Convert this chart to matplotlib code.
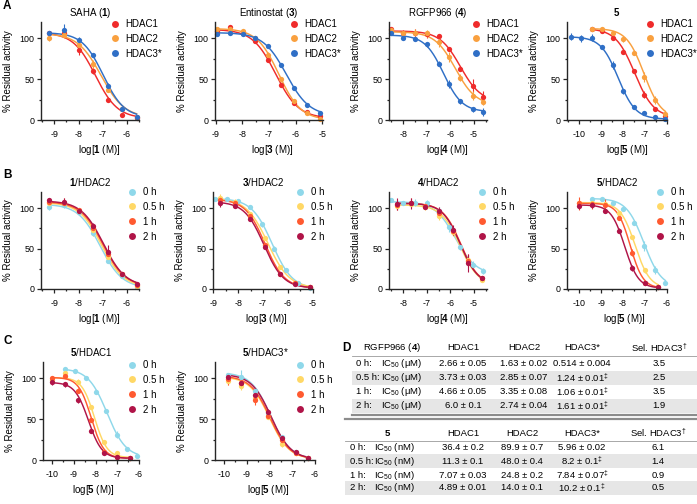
import numpy as np
import matplotlib
matplotlib.use("Agg")
import matplotlib.pyplot as plt
from matplotlib.lines import Line2D
from matplotlib.ticker import MultipleLocator

plt.rcParams['font.family'] = ['Liberation Sans', 'DejaVu Sans']
plt.rcParams['mathtext.fontset'] = 'custom'
plt.rcParams['mathtext.rm'] = 'Liberation Sans'
plt.rcParams['mathtext.it'] = 'Liberation Sans:italic'
plt.rcParams['mathtext.bf'] = 'Liberation Sans:bold'
plt.rcParams['axes.unicode_minus'] = False

# ---- panel A: SAHA (1), 4-fold dilution
sa_x = [-9.2, -8.6, -8.0, -7.4, -6.8, -6.2, -5.6]
sa_h1 = [106, 107, 86, 60, 25, 6, 3]
sa_h2 = [101, 104, 92, 68, 37, 14, 4]
sa_h3 = [106, 110, 98, 79, 42, 14, 4]
sa_h1_err = [3, 3, 6, 4, 2, 1, 1]
sa_h2_err = [4, 4, 3, 5, 3, 2, 2]
sa_h3_err = [2, 8, 4, 2, 3, 2, 1]
# fit params: top, bottom, logIC50, hill
sa_fit_h1 = [107, 2, -7.3, 0.95]
sa_fit_h2 = [106, 3, -7.07, 0.9]
sa_fit_h3 = [107, 3, -6.98, 1.0]

# ---- panel A: Entinostat (3)
en_x = [-8.95, -8.47, -7.99, -7.51, -7.03, -6.55, -6.07, -5.59, -5.1]
en_h1 = [109, 114, 107, 97, 73, 43, 21, 10, 5]
en_h2 = [111, 111, 109, 101, 80, 50, 23, 8, 1]
en_h3 = [105, 107, 105, 101, 91, 67, 39, 18, 8]
en_h1_err = [3, 2, 2, 2, 2, 2, 2, 1, 2]
en_h2_err = [2, 2, 2, 2, 3, 3, 2, 1, 1]
en_h3_err = [2, 2, 2, 2, 2, 2, 2, 1, 1]
en_fit_h1 = [111, 2, -6.75, 1.0]
en_fit_h2 = [112, 0, -6.63, 1.05]
en_fit_h3 = [107, 5, -6.35, 1.0]

# ---- panel A: RGFP966 (4)
rg_x = [-8.5, -8.0, -7.5, -7.0, -6.5, -6.05, -5.58, -5.04, -4.6]
rg_h1 = [111, 107, 106, 105, 103, 87, 63, 42, 28]
rg_h2 = [110, 107, 107, 106, 96, 77, 52, 30, 22]
rg_h3 = [106, 101, 99, 93, 69, 44, 23, 13, 10]
rg_h1_err = [2, 3, 5, 4, 2, 2, 3, 8, 8]
rg_h2_err = [2, 2, 4, 4, 6, 6, 4, 5, 4]
rg_h3_err = [2, 2, 2, 3, 3, 5, 3, 3, 5]
rg_fit_h1 = [109, 22, -5.58, 1.0]
rg_fit_h2 = [108, 18, -5.79, 1.0]
rg_fit_h3 = [104, 10, -6.29, 1.1]

# ---- panel A: 5 (HDAC1/2 start at the third concentration)
c5_x = [-10.38, -9.9, -9.42, -8.94, -8.46, -7.98, -7.5, -7.03, -6.55, -6.07]
c5_h1 = [111, 109, 100, 83, 60, 31, 13, 5]
c5_h2 = [111, 111, 107, 99, 82, 53, 24, 7]
c5_h3 = [102, 100, 101, 89, 67, 35, 16, 8, 4, 1]
c5_h1_err = [2, 2, 2, 2, 3, 4, 2, 1]
c5_h2_err = [2, 2, 2, 3, 2, 6, 5, 2]
c5_h3_err = [4, 4, 4, 2, 5, 3, 1, 1, 1, 1]
c5_fit_h1 = [112, 3, -7.47, 1.0]
c5_fit_h2 = [112, 2, -7.05, 1.1]
c5_fit_h3 = [102, 1, -8.22, 1.1]

# ---- panel B: 1/HDAC2 over time
b1_0h = [102, 104, 95, 69, 35, 16, 2]
b1_05h = [106, 106, 97, 73, 40, 18, 4]
b1_1h = [108, 107, 98, 76, 43, 19, 5]
b1_2h = [110, 108, 96, 78, 46, 19, 6]
b1_0h_err = [4, 4, 3, 4, 3, 2, 2]
b1_05h_err = [3, 3, 2, 8, 3, 2, 1]
b1_1h_err = [3, 5, 2, 5, 4, 2, 1]
b1_2h_err = [3, 5, 3, 4, 9, 2, 1]
b1_fit_0h = [105, 1, -7.1, 0.95]
b1_fit_05h = [107, 2, -7.05, 0.95]
b1_fit_1h = [108, 3, -7.0, 0.95]
b1_fit_2h = [109, 3, -6.97, 0.95]

# ---- panel B: 3/HDAC2 (0 h = entinostat HDAC2 data)
b2_x = [-8.73, -8.13, -7.52, -6.92, -6.32, -5.72, -5.12]
b2_05h = [113, 108, 93, 63, 27, 8, 2]
b2_1h = [110, 107, 90, 54, 19, 7, 2]
b2_2h = [106, 103, 86, 52, 19, 6, 2]
b2_05h_err = [4, 3, 2, 2, 2, 1, 1]
b2_1h_err = [3, 3, 3, 3, 2, 1, 1]
b2_2h_err = [5, 3, 2, 3, 2, 1, 1]
b2_fit_05h = [112, 1, -6.8, 1.0]
b2_fit_1h = [111, 1, -6.92, 1.1]
b2_fit_2h = [108, 1, -6.96, 1.1]

# ---- panel B: 4/HDAC2 (0 h = RGFP966 HDAC2 data)
b3_x = [-8.28, -7.68, -7.07, -6.47, -5.87, -5.26, -4.66]
b3_05h = [103, 105, 101, 90, 70, 36, 11]
b3_1h = [104, 107, 103, 94, 72, 35, 13]
b3_2h = [105, 106, 102, 96, 73, 32, 13]
b3_05h_err = [4, 4, 3, 5, 4, 6, 2]
b3_1h_err = [6, 6, 3, 4, 5, 8, 2]
b3_2h_err = [7, 7, 3, 5, 6, 11, 3]
b3_fit_05h = [104, 4, -5.6, 1.1]
b3_fit_1h = [106, 5, -5.56, 1.15]
b3_fit_2h = [106, 5, -5.58, 1.15]

# ---- panel B: 5/HDAC2 (0 h = compound 5 HDAC2 data)
b4_x = [-10.0, -9.4, -8.8, -8.2, -7.6, -7.0, -6.4]
b4_05h = [107, 106, 105, 94, 64, 23, 2]
b4_1h = [106, 105, 104, 88, 45, 7, 2]
b4_2h = [103, 104, 97, 72, 26, 7, 2]
b4_05h_err = [3, 3, 2, 2, 2, 3, 1]
b4_1h_err = [8, 6, 7, 3, 4, 1, 1]
b4_2h_err = [4, 4, 2, 3, 4, 2, 1]
b4_fit_05h = [107, 1, -7.45, 1.3]
b4_fit_1h = [106, 1, -7.67, 1.5]
b4_fit_2h = [104, 1, -7.92, 1.4]

# ---- panel C: 5/HDAC1 (0 h = compound 5 HDAC1 data)
c1_x = [-10.0, -9.4, -8.8, -8.2, -7.6, -7.0, -6.4]
c1_05h = [98, 106, 96, 65, 22, 8, 3]
c1_1h = [100, 103, 85, 49, 10, 4, 2]
c1_2h = [95, 93, 73, 36, 9, 4, 2]
c1_05h_err = [4, 4, 3, 2, 2, 1, 1]
c1_1h_err = [3, 3, 3, 3, 2, 1, 1]
c1_2h_err = [3, 3, 3, 2, 2, 1, 1]
c1_fit_05h = [101, 3, -8.05, 1.5]
c1_fit_1h = [101, 2, -8.2, 1.5]
c1_fit_2h = [95, 2, -8.33, 1.4]

# ---- panel C: 5/HDAC3*
c2_x = [-9.85, -9.25, -8.65, -8.05, -7.45, -6.85, -6.3]
c2_0h = [104, 102, 84, 57, 28, 10, 3]
c2_05h = [97, 91, 76, 53, 20, 8, 2]
c2_1h = [99, 94, 74, 54, 24, 8, 2]
c2_2h = [102, 94, 80, 59, 27, 10, 3]
c2_0h_err = [3, 8, 3, 3, 3, 2, 1]
c2_05h_err = [5, 5, 4, 3, 4, 1, 1]
c2_1h_err = [7, 4, 7, 3, 3, 1, 1]
c2_2h_err = [3, 3, 3, 3, 3, 1, 1]
c2_fit_0h = [107, 1, -7.95, 1.0]
c2_fit_05h = [102, 1, -8.0, 1.0]
c2_fit_1h = [103, 1, -7.98, 1.0]
c2_fit_2h = [105, 1, -7.93, 1.0]

# ---- panel D tables
tbl_times = ["0 h:", "0.5 h:", "1 h:", "2 h:"]
tbl_cols = ["HDAC1", "HDAC2", "HDAC3*", "Sel. HDAC3$^{†}$"]
t4_h1 = ["2.66 ± 0.05", "3.73 ± 0.03", "4.66 ± 0.05", "6.0 ± 0.1"]
t4_h2 = ["1.63 ± 0.02", "2.85 ± 0.07", "3.35 ± 0.08", "2.74 ± 0.04"]
t4_h3 = ["0.514 ± 0.004", "1.24 ± 0.01$^{‡}$", "1.06 ± 0.01$^{‡}$", "1.61 ± 0.01$^{‡}$"]
t4_sel = ["3.5", "2.5", "3.5", "1.9"]
t5_h1 = ["36.4 ± 0.2", "11.3 ± 0.1", "7.07 ± 0.03", "4.89 ± 0.01"]
t5_h2 = ["89.9 ± 0.7", "48.0 ± 0.4", "24.8 ± 0.2", "14.0 ± 0.1"]
t5_h3 = ["5.96 ± 0.02", "8.2 ± 0.1$^{‡}$", "7.84 ± 0.07$^{‡}$", "10.2 ± 0.1$^{‡}$"]
t5_sel = ["6.1", "1.4", "0.9", "0.5"]

enz_labels = ["HDAC1", "HDAC2", "HDAC3*"]
enz_colors = ["#ef2b2b", "#f9a03f", "#2f6fc6"]
time_labels = ["0 h", "0.5 h", "1 h", "2 h"]
time_colors = ["#8fd8ea", "#ffd866", "#ff5a30", "#b01448"]

W, H = 697, 504
fig = plt.figure(figsize=(W / 100, H / 100), dpi=100)
AXC = "#262626"


def add_ax(x0, y0, x1, y1):
    return fig.add_axes([x0 / W, 1 - y1 / H, (x1 - x0) / W, (y1 - y0) / H])


def logistic(x, top, bottom, logic, hill):
    return bottom + (top - bottom) / (1 + 10 ** ((x - logic) * hill))


def draw_panel(box, series, xlim, xticks, title, xlabel, xlab_px, leg_labels, leg_colors, leg_pos):
    ax = add_ax(*box)
    wpx = box[2] - box[0]
    hpx = box[3] - box[1]
    for x, y, err, fit, col in series:
        xs = np.linspace(x[0], x[-1], 200)
        ax.plot(xs, logistic(xs, *fit), color=col, lw=1.05, clip_on=False)
        ax.errorbar(x, y, yerr=err, fmt='o', color=col, ms=3.8, mew=0,
                    elinewidth=0.8, capsize=1.8, capthick=0.8, clip_on=False)
    ax.set_xlim(*xlim)
    ax.set_ylim(0, 120)
    ax.set_xticks(xticks)
    ax.xaxis.set_minor_locator(MultipleLocator(0.5))
    ax.set_yticks([0, 50, 100])
    ax.yaxis.set_minor_locator(MultipleLocator(25))
    for s in ['top', 'right']:
        ax.spines[s].set_visible(False)
    for s in ['left', 'bottom']:
        ax.spines[s].set_color(AXC)
        ax.spines[s].set_linewidth(1.0)
    ax.tick_params(which='major', length=2.8, width=0.9, color=AXC, labelsize=6.4, pad=2)
    ax.tick_params(axis='x', which='major', pad=4.5)
    ax.tick_params(which='minor', length=1.6, width=0.9, color=AXC)
    ax.set_title(title, fontsize=7, pad=4)
    ax.set_xlabel(xlabel, fontsize=7)
    ax.xaxis.set_label_coords((xlab_px - box[0]) / wpx, -23 / hpx)
    ax.set_ylabel("% Residual activity", fontsize=7)
    ax.yaxis.set_label_coords(-28 / wpx, 0.5)
    handles = [Line2D([], [], ls='none', marker='o', ms=5, mew=0, color=c) for c in leg_colors]
    ax.legend(handles, leg_labels, loc='upper left', frameon=False, fontsize=7,
              bbox_to_anchor=(leg_pos[0] / W, 1 - leg_pos[1] / H), bbox_transform=fig.transFigure,
              borderaxespad=0, borderpad=0, handlelength=1.0, handletextpad=0.6, labelspacing=0.5)
    return ax


# Row A
draw_panel((41, 22, 139, 120),
           [(sa_x, sa_h1, sa_h1_err, sa_fit_h1, enz_colors[0]),
            (sa_x, sa_h2, sa_h2_err, sa_fit_h2, enz_colors[1]),
            (sa_x, sa_h3, sa_h3_err, sa_fit_h3, enz_colors[2])],
           (-9.55, -5.5), [-9, -8, -7, -6], r"SAHA ($\mathbf{1}$)", r"log[$\mathbf{1}$ (M)]", 99,
           enz_labels, enz_colors, (110, 19))
draw_panel((215, 22, 323, 120),
           [(en_x, en_h1, en_h1_err, en_fit_h1, enz_colors[0]),
            (en_x, en_h2, en_h2_err, en_fit_h2, enz_colors[1]),
            (en_x, en_h3, en_h3_err, en_fit_h3, enz_colors[2])],
           (-9.03, -4.97), [-9, -8, -7, -6, -5], r"Entinostat ($\mathbf{3}$)", r"log[$\mathbf{3}$ (M)]", 272,
           enz_labels, enz_colors, (289, 19))
draw_panel((389, 22, 487, 120),
           [(rg_x, rg_h1, rg_h1_err, rg_fit_h1, enz_colors[0]),
            (rg_x, rg_h2, rg_h2_err, rg_fit_h2, enz_colors[1]),
            (rg_x, rg_h3, rg_h3_err, rg_fit_h3, enz_colors[2])],
           (-8.6, -4.45), [-8, -7, -6, -5], r"RGFP966 ($\mathbf{4}$)", r"log[$\mathbf{4}$ (M)]", 447,
           enz_labels, enz_colors, (471, 19))
draw_panel((567, 22, 667, 120),
           [(c5_x[2:], c5_h1, c5_h1_err, c5_fit_h1, enz_colors[0]),
            (c5_x[2:], c5_h2, c5_h2_err, c5_fit_h2, enz_colors[1]),
            (c5_x, c5_h3, c5_h3_err, c5_fit_h3, enz_colors[2])],
           (-10.55, -6.0), [-10, -9, -8, -7, -6], r"$\mathbf{5}$", r"log[$\mathbf{5}$ (M)]", 627,
           enz_labels, enz_colors, (645, 19))

# Row B
draw_panel((41, 192, 139, 289),
           [(sa_x, b1_0h, b1_0h_err, b1_fit_0h, time_colors[0]),
            (sa_x, b1_05h, b1_05h_err, b1_fit_05h, time_colors[1]),
            (sa_x, b1_1h, b1_1h_err, b1_fit_1h, time_colors[2]),
            (sa_x, b1_2h, b1_2h_err, b1_fit_2h, time_colors[3])],
           (-9.55, -5.5), [-9, -8, -7, -6], r"$\mathbf{1}$/HDAC2", r"log[$\mathbf{1}$ (M)]", 99,
           time_labels, time_colors, (127, 187))
draw_panel((213, 192, 313, 289),
           [(en_x, en_h2, en_h2_err, en_fit_h2, time_colors[0]),
            (b2_x, b2_05h, b2_05h_err, b2_fit_05h, time_colors[1]),
            (b2_x, b2_1h, b2_1h_err, b2_fit_1h, time_colors[2]),
            (b2_x, b2_2h, b2_2h_err, b2_fit_2h, time_colors[3])],
           (-9.02, -4.98), [-9, -8, -7, -6, -5], r"$\mathbf{3}$/HDAC2", r"log[$\mathbf{3}$ (M)]", 266,
           time_labels, time_colors, (295, 187))
draw_panel((389, 192, 487, 289),
           [(rg_x, rg_h2, rg_h2_err, rg_fit_h2, time_colors[0]),
            (b3_x, b3_05h, b3_05h_err, b3_fit_05h, time_colors[1]),
            (b3_x, b3_1h, b3_1h_err, b3_fit_1h, time_colors[2]),
            (b3_x, b3_2h, b3_2h_err, b3_fit_2h, time_colors[3])],
           (-8.6, -4.45), [-8, -7, -6, -5], r"$\mathbf{4}$/HDAC2", r"log[$\mathbf{4}$ (M)]", 447,
           time_labels, time_colors, (477, 187))
draw_panel((567, 192, 667, 289),
           [(c5_x[2:], c5_h2, c5_h2_err, c5_fit_h2, time_colors[0]),
            (b4_x, b4_05h, b4_05h_err, b4_fit_05h, time_colors[1]),
            (b4_x, b4_1h, b4_1h_err, b4_fit_1h, time_colors[2]),
            (b4_x, b4_2h, b4_2h_err, b4_fit_2h, time_colors[3])],
           (-10.55, -6.0), [-10, -9, -8, -7, -6], r"$\mathbf{5}$/HDAC2", r"log[$\mathbf{5}$ (M)]", 624,
           time_labels, time_colors, (655, 187))

# Row C
draw_panel((43, 362, 139, 460),
           [(c5_x[2:], c5_h1, c5_h1_err, c5_fit_h1, time_colors[0]),
            (c1_x, c1_05h, c1_05h_err, c1_fit_05h, time_colors[1]),
            (c1_x, c1_1h, c1_1h_err, c1_fit_1h, time_colors[2]),
            (c1_x, c1_2h, c1_2h_err, c1_fit_2h, time_colors[3])],
           (-10.42, -6.0), [-10, -9, -8, -7, -6], r"$\mathbf{5}$/HDAC1", r"log[$\mathbf{5}$ (M)]", 93,
           time_labels, time_colors, (127, 360))
draw_panel((215, 362, 315, 460),
           [(c2_x, c2_0h, c2_0h_err, c2_fit_0h, time_colors[0]),
            (c2_x, c2_05h, c2_05h_err, c2_fit_05h, time_colors[1]),
            (c2_x, c2_1h, c2_1h_err, c2_fit_1h, time_colors[2]),
            (c2_x, c2_2h, c2_2h_err, c2_fit_2h, time_colors[3])],
           (-10.4, -6.0), [-10, -9, -8, -7, -6], r"$\mathbf{5}$/HDAC3*", r"log[$\mathbf{5}$ (M)]", 268,
           time_labels, time_colors, (295, 360))

# Panel letters
for letter, (px, py) in zip("ABC", [(3, 6), (3, 175), (3, 341)]):
    fig.text(px / W, 1 - py / H, letter, fontsize=8.5, fontweight='bold', ha='left', va='center')

# Panel D: tables drawn in pixel coordinates
axt = add_ax(340, 334, 697, 504)
axt.set_xlim(340, 697)
axt.set_ylim(504, 334)
axt.axis('off')
axt.text(342, 348, "D", fontsize=8.5, fontweight='bold', ha='left', va='center')

col_x4 = [463, 524, 582, 659]
col_x5 = [463, 522, 582, 658]
FS = 6.8


def draw_table(y_head, rows_y, header, col_x, lab_x, ic_x, unit, cols, shade_x0):
    for i, (y, t) in enumerate(zip(rows_y, tbl_times)):
        if i % 2 == 1:
            axt.fill_between([shade_x0, 697], y - 7, y + 7, color="#e6e6e6", lw=0)
        axt.text(lab_x, y, t, fontsize=FS, ha='left', va='center')
        axt.text(ic_x, y, "IC$_{50}$ (" + unit + ")", fontsize=FS, ha='left', va='center')
        for cx, col in zip(col_x, cols):
            axt.text(cx, y, col[i], fontsize=FS, ha='center', va='center')
    axt.text(header[1], y_head, header[0], fontsize=FS, ha='center', va='center')
    for cx, lab in zip(col_x, tbl_cols):
        axt.text(cx, y_head, lab, fontsize=FS, ha='center', va='center')
    axt.plot([shade_x0, 697], [y_head + 8, y_head + 8], color="#9a9a9a", lw=0.6)


draw_table(348, [363, 378, 392, 406], (r"RGFP966 ($\mathbf{4}$)", 392), col_x4, 356, 381, "μM",
           [t4_h1, t4_h2, t4_h3, t4_sel], 352)
axt.plot([352, 697], [415, 415], color="#8c8c8c", lw=1.6)
axt.plot([345, 697], [419, 419], color="#8c8c8c", lw=1.6)
draw_table(433, [447, 461, 475, 488], (r"$\mathbf{5}$", 388), col_x5, 350, 374, "nM",
           [t5_h1, t5_h2, t5_h3, t5_sel], 345)

fig.savefig("out.png", dpi=100)
